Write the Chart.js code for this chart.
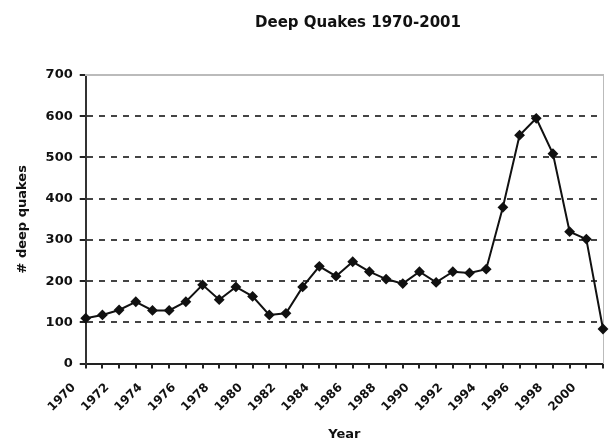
<!DOCTYPE html>
<html>
<head>
<meta charset="utf-8">
<script src="https://cdn.jsdelivr.net/npm/chart.js@4.4.1/dist/chart.umd.min.js"></script>
<style>
    html, body { margin: 0; padding: 0; background: #fff; }
    #wrap { position: relative; width: 609px; height: 443px; }
    #title {
        position: absolute; left: 228px; width: 260px; top: 13px;
        text-align: center; font: bold 15px "DejaVu Sans"; color: #111;
    }
</style>
</head>
<body>
<div id="wrap">
    <div id="title">Deep Quakes 1970-2001</div>
    <canvas id="quakeChart" width="609" height="443"></canvas>
</div>
<script>
// Годы (категории оси X)
const years = ['1970', '1971', '1972', '1973', '1974', '1975', '1976', '1977',
    '1978', '1979', '1980', '1981', '1982', '1983', '1984', '1985',
    '1986', '1987', '1988', '1989', '1990', '1991', '1992', '1993',
    '1994', '1995', '1996', '1997', '1998', '1999', '2000', '2001'];

// Число глубоких землетрясений по годам
const deepQuakes = [110, 118, 130, 150, 129, 129, 150, 191,
    155, 186, 163, 118, 122, 186, 236, 212,
    247, 223, 205, 194, 223, 197, 223, 220,
    229, 379, 554, 595, 509, 320, 302, 84];

// Деления оси Y
const yTicks = [0, 100, 200, 300, 400, 500, 600, 700];

const axisFont = { family: 'DejaVu Sans', weight: 'bold', size: 13 };

const ctx = document.getElementById('quakeChart').getContext('2d');

new Chart(ctx, {
    type: 'line',
    data: {
        labels: years,
        datasets: [{
            label: '# deep quakes',
            data: deepQuakes,
            borderColor: '#111',
            borderWidth: 2,
            backgroundColor: '#111',
            pointStyle: 'rectRot',
            pointRadius: 4,
            pointBackgroundColor: '#111',
            pointBorderColor: '#111',
            tension: 0
        }]
    },
    options: {
        responsive: false,
        animation: false,
        layout: { padding: { top: 67, right: 5, left: 15, bottom: 1 } },
        plugins: {
            legend: { display: false },
            tooltip: { enabled: false },
            title: { display: false }
        },
        scales: {
            x: {
                offset: false,
                // подписи повернуты, правый отступ не нужен
                afterFit: function(scale) {
                    scale.paddingRight = 0;
                },
                grid: {
                    offset: false,
                    drawOnChartArea: false,
                    tickLength: 5,
                    color: '#222',
                    lineWidth: 2
                },
                border: { color: '#222', width: 2 },
                ticks: {
                    autoSkip: false,
                    minRotation: 45,
                    maxRotation: 45,
                    padding: 12,
                    labelOffset: -12,
                    color: '#111',
                    font: { family: 'DejaVu Sans', weight: 'bold', size: 12 },
                    callback: function(value, index) {
                        return index % 2 === 0 ? this.getLabelForValue(value) : '';
                    }
                },
                title: {
                    display: true,
                    text: 'Year',
                    color: '#111',
                    font: axisFont,
                    padding: { top: 0, bottom: 0 }
                }
            },
            y: {
                min: 0,
                max: 700,
                afterBuildTicks: function(scale) {
                    scale.ticks = yTicks.map(v => ({ value: v }));
                },
                grid: {
                    color: function(c) {
                        const v = c.tick ? c.tick.value : null;
                        return (v === 0 || v === 700) ? 'rgba(0,0,0,0)' : '#444';
                    },
                    tickColor: '#222',
                    lineWidth: 2,
                    tickLength: 6,
                    tickBorderDash: []
                },
                border: { color: '#333', width: 2, dash: [6, 6] },
                ticks: {
                    padding: 7,
                    color: '#111',
                    font: axisFont
                },
                title: {
                    display: true,
                    text: '# deep quakes',
                    color: '#111',
                    font: axisFont,
                    padding: { top: 0, bottom: 8 }
                }
            },
            xTop: {
                type: 'linear',
                position: 'top',
                display: true,
                grid: { display: false },
                ticks: { display: false },
                border: { color: '#bbb', width: 2 }
            },
            yRight: {
                type: 'linear',
                position: 'right',
                display: true,
                afterFit: function(scale) {
                    scale.width = 1;
                },
                grid: { display: false },
                ticks: { display: false },
                border: { color: '#bbb', width: 1 }
            }
        }
    }
});
</script>
</body>
</html>
